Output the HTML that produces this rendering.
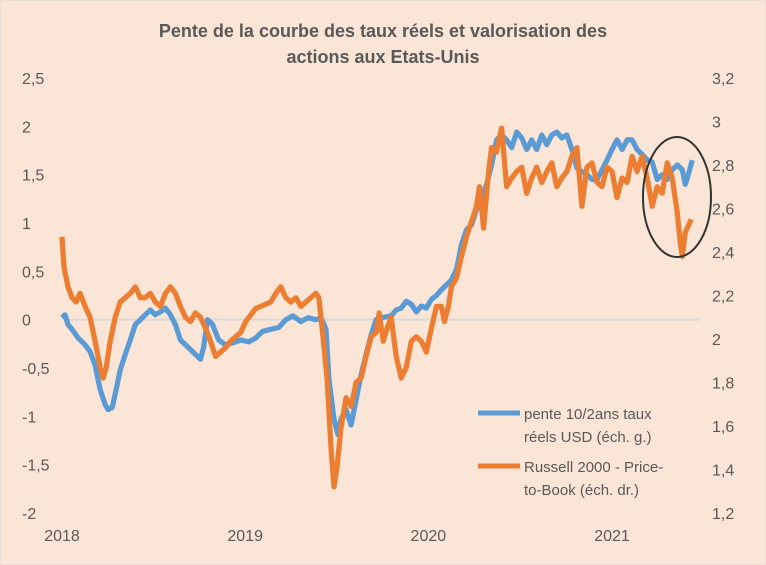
<!DOCTYPE html>
<html><head><meta charset="utf-8"><style>
body{margin:0;background:#FBE5D6;}
svg{display:block;font-family:"Liberation Sans",sans-serif;}
</style></head><body>
<svg id="c" width="766" height="565">
<rect x="0" y="0" width="766" height="565" fill="#FBE5D6" stroke="#d9d9d9"/>
<text x="383" y="37" text-anchor="middle" font-size="18" font-weight="bold" fill="#595959">Pente de la courbe des taux réels et valorisation  des</text>
<text x="383" y="63" text-anchor="middle" font-size="18" font-weight="bold" fill="#595959">actions aux Etats-Unis</text>
<g id="axes"></g>
<g id="series"></g>
<ellipse cx="677" cy="197" rx="34" ry="60" fill="none" stroke="#333" stroke-width="2"/>
<g>
<line x1="478" y1="413" x2="520" y2="413" stroke="#5B9BD5" stroke-width="5"/>
<text x="524" y="419" font-size="15" fill="#595959">pente 10/2ans taux</text>
<text x="524" y="442" font-size="15" fill="#595959">réels USD (éch. g.)</text>
<line x1="478" y1="466" x2="520" y2="466" stroke="#ED7D31" stroke-width="5"/>
<text x="524" y="472" font-size="15" fill="#595959">Russell 2000 - Price-</text>
<text x="524" y="495" font-size="15" fill="#595959">to-Book (éch. dr.)</text>
</g>
</svg>
<script>
const leftTicks=[2.5,2,1.5,1,0.5,0,-0.5,-1,-1.5,-2];
const leftTickLabels=["2,5","2","1,5","1","0,5","0","-0,5","-1","-1,5","-2"];
const rightTicks=[3.2,3,2.8,2.6,2.4,2.2,2,1.8,1.6,1.4,1.2];
const rightTickLabels=["3,2","3","2,8","2,6","2,4","2,2","2","1,8","1,6","1,4","1,2"];
const yearTicks=[0,365,730,1096];
const yearLabels=["2018","2019","2020","2021"];
const blueDays=[0,6,12,20,32,46,56,66,76,86,92,100,108,116,126,136,146,156,166,176,186,196,206,216,226,236,246,256,266,276,282,290,300,312,326,340,356,372,386,400,416,432,446,460,476,490,506,516,526,532,542,550,556,566,576,586,596,606,616,626,636,656,666,676,686,696,706,716,726,736,746,756,766,776,786,796,806,816,826,836,846,856,866,876,886,896,906,916,926,936,946,956,966,976,986,996,1006,1016,1026,1036,1046,1056,1066,1076,1086,1096,1106,1116,1126,1136,1146,1156,1166,1176,1186,1196,1206,1216,1226,1236,1242,1248,1256];
const blueValues=[0.02,0.05,-0.05,-0.10,-0.19,-0.26,-0.33,-0.47,-0.72,-0.88,-0.93,-0.91,-0.72,-0.52,-0.36,-0.21,-0.05,0,0.05,0.10,0.05,0.08,0.12,0.05,-0.05,-0.21,-0.26,-0.31,-0.36,-0.41,-0.29,0,-0.05,-0.21,-0.26,-0.24,-0.21,-0.23,-0.19,-0.12,-0.10,-0.08,0,0.04,-0.02,0.02,0,0.02,-0.10,-0.62,-1.03,-1.19,-1.03,-0.93,-1.09,-0.83,-0.57,-0.36,-0.16,0,0.02,0.04,0.10,0.12,0.19,0.16,0.08,0.14,0.12,0.21,0.25,0.31,0.36,0.41,0.52,0.78,0.93,0.98,1.14,1.24,1.40,1.60,1.86,1.91,1.86,1.78,1.94,1.88,1.76,1.86,1.76,1.91,1.81,1.91,1.94,1.88,1.91,1.76,1.57,1.53,1.50,1.45,1.45,1.55,1.65,1.76,1.86,1.76,1.86,1.86,1.76,1.71,1.65,1.63,1.45,1.50,1.45,1.55,1.60,1.55,1.40,1.50,1.65];
const orangeDays=[0,4,12,20,28,36,46,56,66,76,82,88,96,106,116,126,136,146,156,166,176,186,196,206,216,226,236,246,256,266,276,286,296,306,316,326,336,346,356,366,376,386,396,406,416,426,436,446,456,466,476,486,496,506,512,520,528,536,542,548,556,566,576,586,596,606,616,626,632,640,648,656,666,676,686,696,706,716,726,736,746,756,762,770,776,786,796,806,816,826,832,840,850,856,866,876,886,896,906,916,926,936,946,956,966,976,986,996,1006,1016,1026,1036,1046,1056,1066,1076,1086,1096,1106,1116,1126,1136,1146,1156,1166,1176,1186,1196,1206,1216,1226,1232,1236,1242,1248,1254];
const orangeValues=[2.47,2.33,2.24,2.19,2.17,2.21,2.15,2.10,1.99,1.87,1.82,1.87,1.99,2.10,2.17,2.19,2.21,2.24,2.19,2.19,2.21,2.17,2.15,2.21,2.24,2.21,2.15,2.10,2.08,2.12,2.10,2.05,1.99,1.92,1.94,1.96,1.99,2.01,2.03,2.08,2.11,2.14,2.15,2.16,2.17,2.21,2.24,2.19,2.17,2.19,2.15,2.17,2.19,2.21,2.19,2.01,1.82,1.50,1.32,1.41,1.59,1.73,1.69,1.80,1.82,1.92,2.01,2.03,2.12,1.99,2.05,2.10,1.92,1.82,1.87,1.99,2.01,1.99,1.94,2.05,2.15,2.15,2.08,2.15,2.24,2.28,2.38,2.47,2.54,2.61,2.70,2.51,2.77,2.88,2.86,2.97,2.70,2.74,2.77,2.79,2.67,2.74,2.79,2.72,2.77,2.81,2.70,2.74,2.77,2.84,2.88,2.61,2.79,2.81,2.72,2.70,2.79,2.77,2.65,2.74,2.72,2.84,2.77,2.84,2.74,2.61,2.70,2.67,2.81,2.74,2.58,2.44,2.38,2.49,2.52,2.55];

const NS="http://www.w3.org/2000/svg";
const X0=62,PXD=183.3/365.25,TOP=78,BOT=513;
const xS=d=>X0+d*PXD;
const yL=v=>BOT-(v+2)*(BOT-TOP)/4.5;
const yR=v=>BOT-(v-1.2)*(BOT-TOP)/2;
const axes=document.getElementById('axes'),ser=document.getElementById('series');
function mk(tag,attrs,parent,txt){const e=document.createElementNS(NS,tag);for(const k in attrs)e.setAttribute(k,attrs[k]);if(txt!==undefined)e.textContent=txt;parent.appendChild(e);return e;}
const zl=mk('line',{x1:X0,x2:700,y1:yL(0),y2:yL(0),stroke:'#d9d9d9','stroke-width':2},axes);


leftTicks.forEach((v,i)=>{const t=mk('text',{x:22,y:yL(v)+6,'font-size':16,fill:'#595959'},axes,leftTickLabels[i]);

});
rightTicks.forEach((v,i)=>{const t=mk('text',{x:712,y:yR(v)+6,'font-size':16,fill:'#595959'},axes,rightTickLabels[i]);

});
yearTicks.forEach((d,i)=>{const t=mk('text',{x:xS(d),y:541,'font-size':16,fill:'#595959','text-anchor':'middle'},axes,yearLabels[i]);

});
function path(days,vals,ys){const n=Math.min(days.length,vals.length);let d='';for(let i=0;i<n;i++)d+=(i?'L':'M')+xS(days[i]).toFixed(1)+','+ys(vals[i]).toFixed(1);return d;}
const pb=mk('path',{d:path(blueDays,blueValues,yL),fill:'none',stroke:'#5B9BD5','stroke-width':5.2,'stroke-linejoin':'round'},ser);


const po=mk('path',{d:path(orangeDays,orangeValues,yR),fill:'none',stroke:'#ED7D31','stroke-width':5.2,'stroke-linejoin':'round'},ser);


</script>
</body></html>
